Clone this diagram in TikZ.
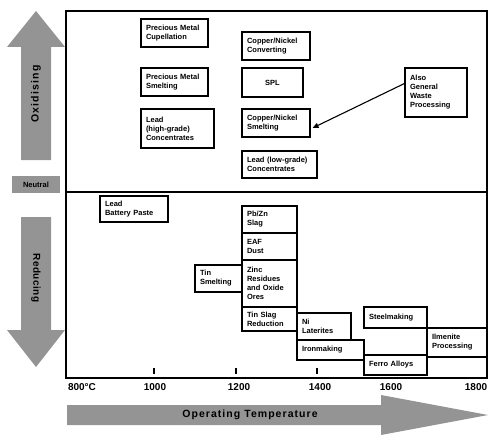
\documentclass[tikz,border=0pt]{standalone}
\usepackage{fontspec}
\setmainfont{Liberation Sans}
\usetikzlibrary{arrows.meta}
\definecolor{stip}{gray}{0.58}
\tikzset{
  bx/.style={draw, line width=1.1pt, fill=white, inner xsep=5pt, inner ysep=1pt,
    align=left, font=\fontsize{7.5}{9}\selectfont\bfseries},
  shade/.style={fill=stip, draw=none},
  ax/.style={font=\fontsize{10}{12}\selectfont\bfseries},
  frame/.style={draw, line width=1.2pt},
  tick/.style={line width=1.1pt},
}
\begin{document}
\begin{tikzpicture}[x=1pt,y=-1pt]
\useasboundingbox (0,0) rectangle (500,441);
% frame
\draw[frame] (66,11) rectangle (487,378);
\coordinate (dl) at (66,192);
\coordinate (dr) at (487,192);
\draw[frame] (dl) -- (dr);
% side arrows
\fill[shade] (21,160) -- (21,47) -- (7,47) -- (36,11) -- (65,47) -- (51,47) -- (51,160) -- cycle;
\node[rotate=90, font=\fontsize{10.5}{12}\selectfont\bfseries\addfontfeature{LetterSpace=12}] (oxi) at (36,94) {Oxidising};
\fill[shade] (21,217) -- (21,330) -- (7,330) -- (36,367) -- (65,330) -- (51,330) -- (51,217) -- cycle;
\node[rotate=-90, font=\fontsize{10}{12}\selectfont\bfseries\addfontfeature{LetterSpace=4}] (red) at (36,278) {Reducing};
\node[shade, minimum width=48pt, minimum height=17pt, inner sep=0pt, font=\fontsize{7.5}{9}\selectfont\bfseries] (neu) at (36,184.5) {Neutral};
% bottom arrow
\fill[shade] (67,405) -- (381,405) -- (381,395) -- (488,415) -- (381,435) -- (381,425) -- (67,425) -- cycle;
\node[font=\fontsize{10.5}{12}\selectfont\bfseries\addfontfeature{LetterSpace=10}] (opt) at (250,415) {Operating Temperature};
% ticks
\draw[tick] (154,368) -- (154,374);
\draw[tick] (236,368) -- (236,374);
\draw[tick] (317,368) -- (317,374);
% axis labels
\node[ax] (t800) at (82,387) {800\textdegree C};
\node[ax] (t1000) at (155,387) {1000};
\node[ax] (t1200) at (239,387) {1200};
\node[ax] (t1400) at (320,387) {1400};
\node[ax] (t1600) at (391,387) {1600};
\node[ax] (t1800) at (476,387) {1800};
% oxidising boxes
\node[bx, text width=57pt, minimum height=28pt] (cup) at (174.5,33) {Precious Metal\\Cupellation};
\node[bx, text width=57pt, minimum height=28pt] (pms) at (174.5,82) {Precious Metal\\Smelting};
\node[bx, text width=63pt, minimum height=39pt] (lhg) at (177.5,128.5) {Lead\\(high-grade)\\Concentrates};
\node[bx, text width=58pt, minimum height=28pt] (cnc) at (276,46) {Copper/Nickel\\Converting};
\node[bx, text width=51pt, minimum height=29pt, align=center] (spl) at (272.5,82.5) {SPL};
\node[bx, text width=58pt, minimum height=28pt] (cns) at (276,123) {Copper/Nickel\\Smelting};
\node[bx, text width=65pt, minimum height=27pt] (llg) at (279.5,164.5) {Lead (low-grade)\\Concentrates};
\node[bx, text width=52pt, minimum height=49pt] (also) at (436,92.5) {Also\\General\\Waste\\Processing};
\draw[line width=1.1pt, -{Triangle[length=6pt,width=5pt]}] ([yshift=9pt]also.west) -- ([xshift=2pt,yshift=-5pt]cns.east);
% reducing boxes
\node[bx, text width=58pt, minimum height=26pt] (lbp) at (134,209) {Lead\\Battery Paste};
\node[bx, text width=37pt, minimum height=27pt] (tin) at (218.5,278.5) {Tin\\Smelting};
\node[bx, text width=45pt, minimum height=27pt] (pbzn) at (269.5,219.5) {Pb/Zn\\Slag};
\node[bx, text width=45pt, minimum height=27pt] (eaf) at (269.5,246.5) {EAF\\Dust};
\node[bx, text width=45pt, minimum height=47pt] (zinc) at (269.5,283.5) {Zinc\\Residues\\and Oxide\\Ores};
\node[bx, text width=45pt, minimum height=24pt] (tsr) at (269.5,319) {Tin Slag\\Reduction};
\node[bx, text width=44pt, minimum height=27pt] (ni) at (324,326.5) {Ni\\Laterites};
\node[bx, text width=57pt, minimum height=20pt] (iron) at (330.5,350) {Ironmaking};
\node[bx, text width=53pt, minimum height=21pt] (steel) at (395.5,317.5) {Steelmaking};
\node[bx, text width=50pt, minimum height=29pt] (ilm) at (457,342.5) {Ilmenite\\Processing};
\node[bx, text width=53pt, minimum height=20pt] (ferro) at (395.5,365) {Ferro Alloys};
\end{tikzpicture}
\end{document}
